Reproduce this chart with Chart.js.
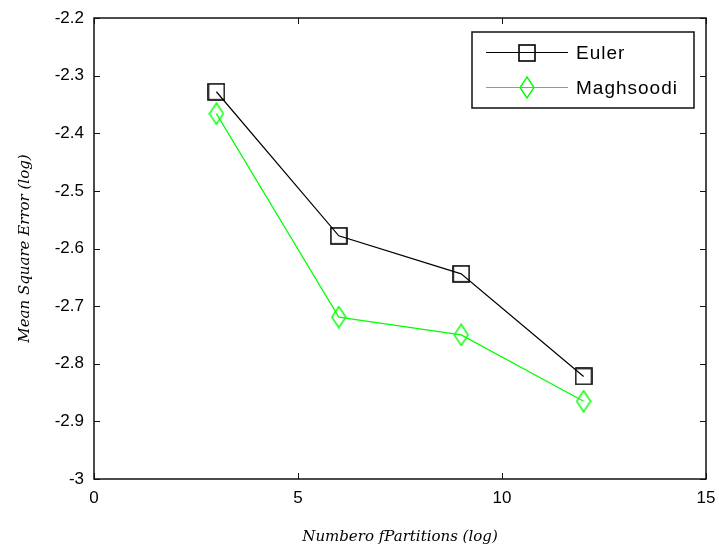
<!DOCTYPE html>
<html>
<head>
<meta charset="utf-8">
<script src="https://cdn.jsdelivr.net/npm/chart.js@4"></script>
<style>
  html, body { margin: 0; padding: 0; background: #fff; }
</style>
</head>
<body>
<canvas id="mse" width="719" height="547"></canvas>
<script>
// mean square error (log) against number of partitions (log)
const partitions = [3, 6, 9, 12];
const eulerMse = [-2.328, -2.578, -2.644, -2.822];
const maghsoodiMse = [-2.366, -2.719, -2.750, -2.865];
const xTicks = [0, 5, 10, 15];
const yTicks = [-3, -2.9, -2.8, -2.7, -2.6, -2.5, -2.4, -2.3, -2.2];

const tickFont = { family: 'Liberation Sans, Arial, sans-serif', size: 17 };
const titleFont = { family: 'DejaVu Serif, serif', size: 15, style: 'italic' };

// open square and tall diamond, drawn once and reused by points and legend
function squareMarker(size, color) {
    const c = document.createElement('canvas');
    c.width = c.height = size + 2;
    const g = c.getContext('2d');
    g.strokeStyle = color;
    g.lineWidth = 1.6;
    g.strokeRect(1, 1, size, size);
    return c;
}

function diamondMarker(w, h, color) {
    const c = document.createElement('canvas');
    c.width = w + 2;
    c.height = h + 2;
    const g = c.getContext('2d');
    g.strokeStyle = color;
    g.lineWidth = 1.4;
    g.beginPath();
    g.moveTo(1 + w / 2, 1);
    g.lineTo(1 + w, 1 + h / 2);
    g.lineTo(1 + w / 2, 1 + h);
    g.lineTo(1, 1 + h / 2);
    g.closePath();
    g.stroke();
    return c;
}

const toPoints = (xs, ys) => xs.map((x, i) => ({ x: x, y: ys[i] }));

// axes box with inward ticks on all four sides
const axesBox = {
    id: 'axesBox',
    afterDatasetsDraw(chart) {
        const { ctx, chartArea: a, scales } = chart;
        ctx.save();
        ctx.strokeStyle = '#111';
        ctx.lineWidth = 1.5;
        ctx.strokeRect(a.left, a.top, a.right - a.left, a.bottom - a.top);
        ctx.lineWidth = 1;
        ctx.beginPath();
        xTicks.forEach(v => {
            const x = Math.round(scales.x.getPixelForValue(v)) + 0.5;
            ctx.moveTo(x, a.bottom); ctx.lineTo(x, a.bottom - 6);
            ctx.moveTo(x, a.top); ctx.lineTo(x, a.top + 6);
        });
        yTicks.forEach(v => {
            const y = Math.round(scales.y.getPixelForValue(v)) + 0.5;
            ctx.moveTo(a.left, y); ctx.lineTo(a.left + 6, y);
            ctx.moveTo(a.right, y); ctx.lineTo(a.right - 6, y);
        });
        ctx.stroke();
        ctx.restore();
    }
};

// legend box in the upper right corner of the plot
const boxLegend = {
    id: 'boxLegend',
    afterDraw(chart) {
        const { ctx, chartArea: a } = chart;
        const w = 222, h = 76;
        const left = a.right - 12 - w, top = a.top + 14;
        ctx.save();
        ctx.fillStyle = '#fff';
        ctx.fillRect(left, top, w, h);
        ctx.strokeStyle = '#111';
        ctx.lineWidth = 1.5;
        ctx.strokeRect(left, top, w, h);
        ctx.font = '19px "Liberation Sans", Arial, sans-serif';
        ctx.letterSpacing = '1px';
        ctx.textBaseline = 'middle';
        chart.data.datasets.forEach((ds, i) => {
            const y = Math.round(top + 20 + i * 35) + 0.5;
            ctx.strokeStyle = ds.borderColor;
            ctx.lineWidth = 1;
            ctx.beginPath();
            ctx.moveTo(left + 14, y);
            ctx.lineTo(left + 96, y);
            ctx.stroke();
            const img = ds.pointStyle;
            ctx.drawImage(img, Math.round(left + 55 - img.width / 2), Math.round(y - img.height / 2));
            ctx.fillStyle = '#000';
            ctx.fillText(ds.label, left + 104, y + 1);
        });
        ctx.restore();
    }
};

// keep the plot box fixed; labels may run into the margins
const noOverflowPadding = scale => {
    scale.paddingLeft = 0;
    scale.paddingRight = 0;
    scale.paddingTop = 0;
    scale.paddingBottom = 0;
};

new Chart(document.getElementById('mse'), {
    type: 'line',
    data: {
        datasets: [
            {
                label: 'Euler',
                data: toPoints(partitions, eulerMse),
                borderColor: '#000000',
                borderWidth: 1.2,
                pointStyle: squareMarker(16, '#000000'),
                pointRadius: 8,
                tension: 0,
                fill: false,
            },
            {
                label: 'Maghsoodi',
                data: toPoints(partitions, maghsoodiMse),
                borderColor: '#00ff00',
                borderWidth: 1.2,
                pointStyle: diamondMarker(14, 21, '#00ff00'),
                pointRadius: 8,
                tension: 0,
                fill: false,
            },
        ],
    },
    options: {
        responsive: false,
        animation: false,
        devicePixelRatio: 1,
        layout: { padding: { top: 18, right: 13, bottom: 0, left: 0 } },
        plugins: {
            legend: { display: false },
            tooltip: { enabled: false },
        },
        scales: {
            x: {
                type: 'linear',
                min: 0,
                max: 15,
                afterBuildTicks: scale => { scale.ticks = xTicks.map(v => ({ value: v })); },
                afterFit: scale => { scale.height = 68; noOverflowPadding(scale); },
                grid: { display: false, drawTicks: false },
                border: { display: false },
                ticks: { font: tickFont, color: '#000', padding: 9, maxRotation: 0 },
                title: {
                    display: true,
                    text: 'Numbero fPartitions (log)',
                    font: titleFont,
                    color: '#000',
                    padding: { top: 0, bottom: 1 },
                },
            },
            y: {
                type: 'linear',
                min: -3,
                max: -2.2,
                afterBuildTicks: scale => { scale.ticks = yTicks.map(v => ({ value: v })); },
                afterFit: scale => { scale.width = 94; noOverflowPadding(scale); },
                grid: { display: false, drawTicks: false },
                border: { display: false },
                ticks: {
                    font: tickFont,
                    color: '#000',
                    padding: 10,
                    callback: v => String(Number(v.toFixed(1))),
                },
                title: {
                    display: true,
                    text: 'Mean Square Error (log)',
                    font: titleFont,
                    color: '#000',
                    padding: { top: 16, bottom: 0 },
                },
            },
        },
    },
    plugins: [axesBox, boxLegend],
});
</script>
</body>
</html>
